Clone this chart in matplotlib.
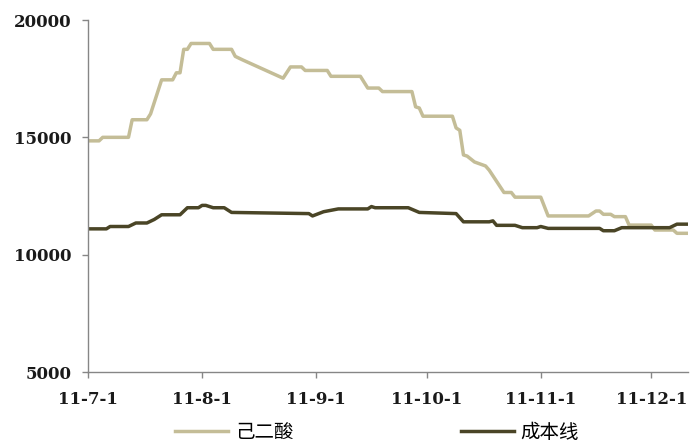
import datetime as dt

import matplotlib
matplotlib.use("Agg")
from matplotlib import pyplot as plt
from matplotlib import dates as mdates
from matplotlib import ticker

plt.rcParams['font.family'] = ['Noto Sans CJK SC', 'DejaVu Sans']

# adipic acid spot price (yuan/t), change points
acid_dates = [
    "2011-07-01", "2011-07-04", "2011-07-05", "2011-07-12", "2011-07-13", "2011-07-17",
    "2011-07-18", "2011-07-21", "2011-07-24", "2011-07-25", "2011-07-26", "2011-07-27",
    "2011-07-28", "2011-07-29", "2011-08-03", "2011-08-04", "2011-08-09", "2011-08-10",
    "2011-08-12", "2011-08-23", "2011-08-25", "2011-08-28", "2011-08-29", "2011-09-04",
    "2011-09-05", "2011-09-13", "2011-09-15", "2011-09-18", "2011-09-19", "2011-09-27",
    "2011-09-28", "2011-09-29", "2011-09-30", "2011-10-08", "2011-10-09", "2011-10-10",
    "2011-10-11", "2011-10-12", "2011-10-14", "2011-10-17", "2011-10-18", "2011-10-22",
    "2011-10-24", "2011-10-25", "2011-11-01", "2011-11-03", "2011-11-14", "2011-11-16",
    "2011-11-17", "2011-11-18", "2011-11-20", "2011-11-21", "2011-11-24", "2011-11-25",
    "2011-12-01", "2011-12-02", "2011-12-07", "2011-12-08", "2011-12-11",
]
acid_values = [
    14850, 14850, 15000, 15000, 15750, 15750,
    16000, 17450, 17450, 17750, 17750, 18750,
    18750, 19000, 19000, 18750, 18750, 18450,
    18300, 17520, 18000, 18000, 17850, 17850,
    17600, 17600, 17100, 17100, 16950, 16950,
    16300, 16250, 15900, 15900, 15400, 15300,
    14250, 14200, 13950, 13780, 13600, 12650,
    12650, 12450, 12450, 11650, 11650, 11860,
    11860, 11720, 11720, 11620, 11620, 11260,
    11260, 11050, 11050, 10910, 10910,
]

# production cost line (yuan/t)
cost_dates = [
    "2011-07-01", "2011-07-06", "2011-07-07", "2011-07-12", "2011-07-14", "2011-07-17",
    "2011-07-19", "2011-07-21", "2011-07-26", "2011-07-28", "2011-07-31", "2011-08-01",
    "2011-08-02", "2011-08-04", "2011-08-07", "2011-08-09", "2011-08-30", "2011-08-31",
    "2011-09-03", "2011-09-07", "2011-09-15", "2011-09-16", "2011-09-17", "2011-09-26",
    "2011-09-29", "2011-10-09", "2011-10-11", "2011-10-18", "2011-10-19", "2011-10-20",
    "2011-10-25", "2011-10-27", "2011-10-31", "2011-11-01", "2011-11-03", "2011-11-17",
    "2011-11-18", "2011-11-21", "2011-11-23", "2011-12-06", "2011-12-08", "2011-12-11",
]
cost_values = [
    11100, 11100, 11200, 11200, 11350, 11350,
    11500, 11700, 11700, 12000, 12000, 12100,
    12100, 12000, 12000, 11800, 11750, 11650,
    11830, 11950, 11950, 12050, 12000, 12000,
    11800, 11750, 11400, 11400, 11440, 11250,
    11250, 11150, 11150, 11200, 11120, 11120,
    11020, 11020, 11150, 11150, 11300, 11300,
]

month_ticks = ["2011-07-01", "2011-08-01", "2011-09-01", "2011-10-01", "2011-11-01", "2011-12-01"]


def to_dates(items):
    return [dt.datetime.strptime(s, "%Y-%m-%d") for s in items]


fig = plt.figure(figsize=(6.91, 4.41), dpi=100)
ax = fig.add_axes([88 / 691, 1 - 372 / 441, 600 / 691, 352 / 441])

ax.plot(to_dates(acid_dates), acid_values, color='#c4bd97', lw=2.5, label='己二酸',
        solid_joinstyle='round')
ax.plot(to_dates(cost_dates), cost_values, color='#4a4526', lw=2.5, label='成本线',
        solid_joinstyle='round')

ax.set_ylim(5000, 20000)
ax.set_xlim(dt.datetime(2011, 7, 1), dt.datetime(2011, 12, 11))
ax.yaxis.set_major_locator(ticker.MultipleLocator(5000))
ax.set_xticks(to_dates(month_ticks))
ax.xaxis.set_major_formatter(
    ticker.FuncFormatter(lambda v, pos: (lambda d: f"{d.year % 100}-{d.month}-{d.day}")(mdates.num2date(v)))
)

for side in ('top', 'right'):
    ax.spines[side].set_visible(False)
for side in ('left', 'bottom'):
    ax.spines[side].set_color('#868686')
    ax.spines[side].set_linewidth(1.0)

ax.tick_params(axis='both', direction='out', length=4, width=1.0, color='#868686')
ax.tick_params(axis='x', pad=10)
ax.tick_params(axis='y', pad=8)
for lab in ax.get_xticklabels() + ax.get_yticklabels():
    lab.set_family('DejaVu Serif')
    lab.set_fontweight('bold')
    lab.set_fontsize(12)
    lab.set_color('#1a1a1a')

fig.legend(loc='center', bbox_to_anchor=(377 / 691, 1 - 432 / 441), ncol=2, frameon=False,
           fontsize=14, handlelength=2.73, handletextpad=0.36, columnspacing=8.6,
           borderaxespad=0, borderpad=0)

fig.savefig('out.png', dpi=100)
